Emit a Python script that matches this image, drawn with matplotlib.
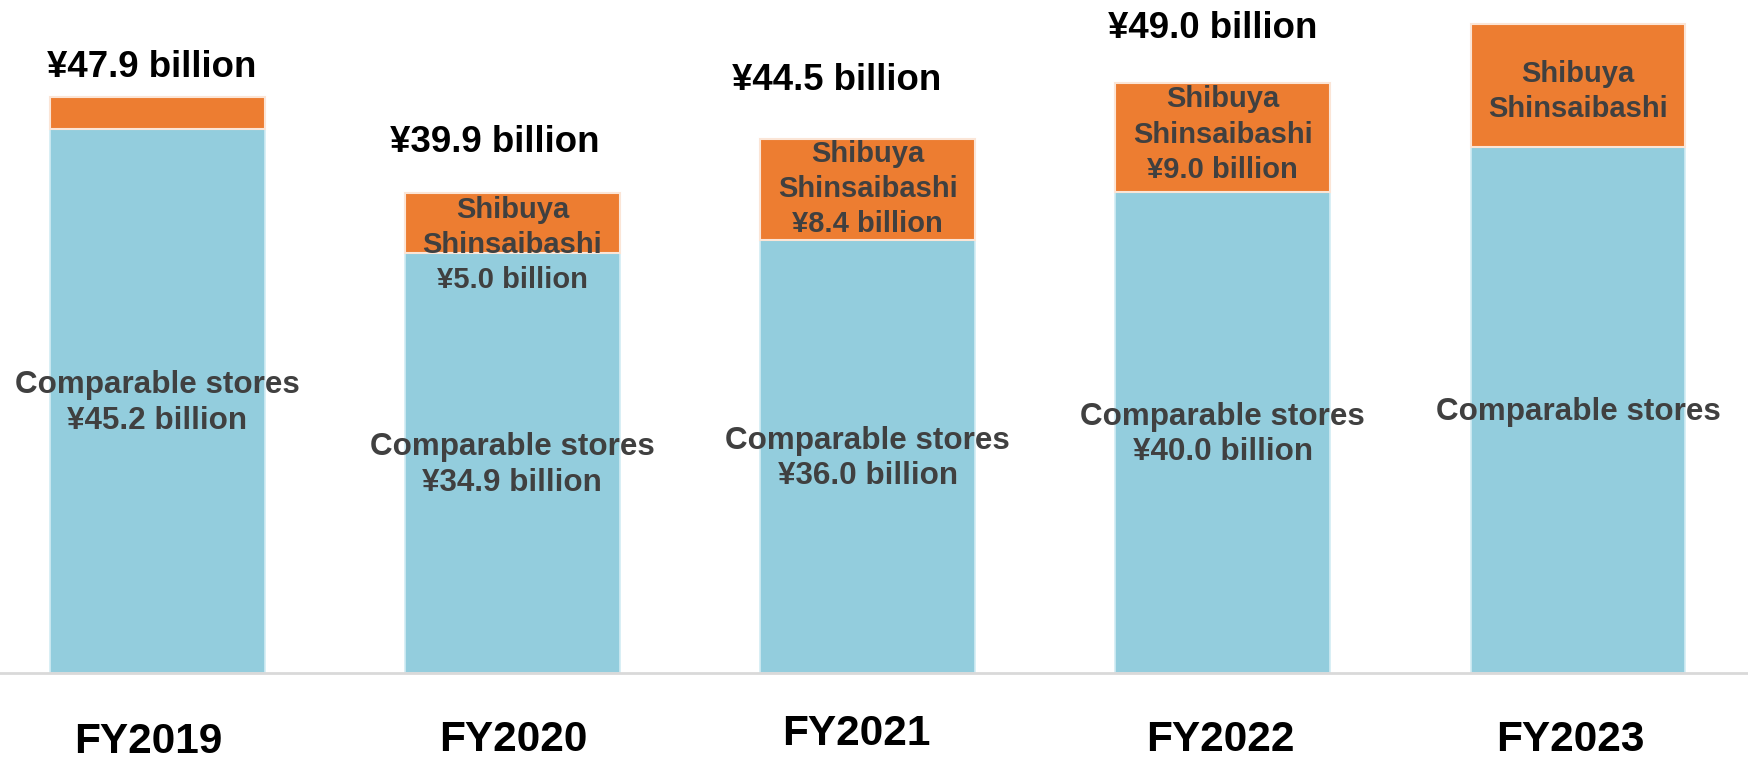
import matplotlib
matplotlib.use("Agg")
import matplotlib.pyplot as plt
import numpy as np

plt.rcParams['font.family'] = ['Liberation Sans', 'DejaVu Sans']

# ---- data ----
years = ["FY2019", "FY2020", "FY2021", "FY2022", "FY2023"]
comparable = [45.2, 34.9, 36.0, 40.0, 43.7]
shibuya = [2.7, 5.0, 8.4, 9.0, 10.2]
total_labels = ["¥47.9 billion", "¥39.9 billion", "¥44.5 billion", "¥49.0 billion", ""]
comp_labels = ["Comparable stores\n¥45.2 billion", "Comparable stores\n¥34.9 billion",
               "Comparable stores\n¥36.0 billion", "Comparable stores\n¥40.0 billion",
               "Comparable stores"]
shib_labels = ["", "Shibuya\nShinsaibashi\n¥5.0 billion", "Shibuya\nShinsaibashi\n¥8.4 billion",
               "Shibuya\nShinsaibashi\n¥9.0 billion", "Shibuya\nShinsaibashi"]

# ---- layout tweaks (pixel offsets) ----
total_dx = [-6, -18, -31, -10, 0]
total_dy = [20, 41, 49, 45, 0]
year_dx = [-9, 1, -11, -2, -8]
year_dy = [-80, -78, -72, -78, -78]
shib_dy = [0, -22, 0, 3, -6]

BLUE = "#93CDDD"
ORANGE = "#ED7D31"
DARK = "#404040"

fig = plt.figure(figsize=(17.48, 7.6), dpi=100)
base_frac = (760 - 673.3) / 760
ax = fig.add_axes([0, base_frac, 1, 1 - base_frac])
x = np.arange(len(years))
w = 0.605
comp = np.array(comparable)
shib = np.array(shibuya)

ax.bar(x, comp, width=w, color=BLUE, edgecolor="#D2ECF3", linewidth=1.2, zorder=2)
ax.bar(x, shib, width=w, bottom=comp, color=ORANGE, edgecolor="#FBE5D6", linewidth=1.5, zorder=2)

ax.set_xlim(-0.4426, 4.4786)
ax.set_ylim(0, 673.3 / 12.04)
ax.axis("off")

# baseline
ax.axhline(0, color="#D9D9D9", linewidth=2, zorder=3, clip_on=False)

for i in range(len(years)):
    if total_labels[i]:
        ax.annotate(total_labels[i], (x[i], comp[i] + shib[i]),
                    xytext=(total_dx[i], total_dy[i]), textcoords="offset pixels",
                    ha="center", va="baseline", fontsize=26.4, fontweight="bold",
                    color="black", annotation_clip=False)
    ax.annotate(years[i], (x[i], 0), xytext=(year_dx[i], year_dy[i]),
                textcoords="offset pixels", ha="center", va="baseline",
                fontsize=30.5, fontweight="bold", color="black", annotation_clip=False)
    ax.annotate(comp_labels[i], (x[i], comp[i] / 2), xytext=(0, -2),
                textcoords="offset pixels", ha="center", va="center",
                fontsize=22.6, fontweight="bold", color=DARK, linespacing=1.25,
                zorder=4)
    if shib_labels[i]:
        ax.annotate(shib_labels[i], (x[i], comp[i] + shib[i] / 2),
                    xytext=(0, shib_dy[i]), textcoords="offset pixels",
                    ha="center", va="center", fontsize=21, fontweight="bold",
                    color=DARK, linespacing=1.32, zorder=4)

fig.savefig("out.png", dpi=100, facecolor="white")
